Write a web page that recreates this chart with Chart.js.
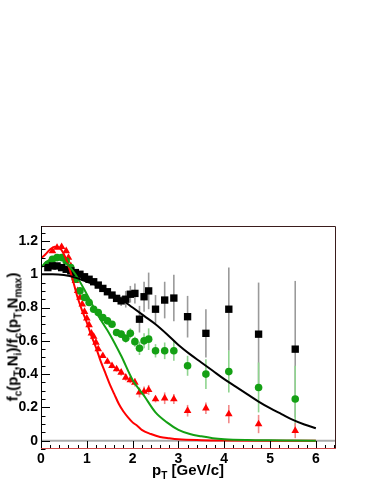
<!DOCTYPE html>
<html><head><meta charset="utf-8">
<script src="https://cdn.jsdelivr.net/npm/chart.js@4/dist/chart.umd.min.js"></script>
<style>
html,body{margin:0;padding:0;background:#fff;}
#wrap{position:relative;width:374px;height:484px;overflow:hidden;}
canvas{position:absolute;left:0;top:0;}
.t{position:absolute;font-family:"Liberation Sans",Arial,sans-serif;font-weight:bold;font-size:15px;white-space:nowrap;color:#000;line-height:1;}
.t sub{font-size:10px;vertical-align:baseline;position:relative;top:4px;}
#xt{left:188px;top:469px;transform:translate(-50%,-50%);}
#yt{left:12px;top:337px;transform:translate(-50%,-50%) rotate(-90deg);}
</style></head>
<body><div id="wrap"><canvas id="c" width="374" height="484"></canvas>
<div class="t" id="xt">p<sub>T</sub> [GeV/c]</div>
<div class="t" id="yt">f<sub>c</sub>(p<sub>T</sub>,N<sub>i</sub>)/f<sub>c</sub>(p<sub>T</sub>,N<sub>max</sub>)</div>
</div>
<script>
// ---- tick labels ----
const xTicks = [0, 1, 2, 3, 4, 5, 6];
const yTicks = [0, 0.2, 0.4, 0.6, 0.8, 1, 1.2];

// ---- black squares ----
const blackPt  = [0.15,0.25,0.35,0.45,0.55,0.65,0.75,0.85,0.95,1.05,1.15,1.25,1.35,1.45,1.55,1.65,1.75,1.85,1.95,2.05,2.15,2.25,2.35,2.5,2.7,2.9,3.2,3.6,4.1,4.75,5.55];
const blackVal = [1.04,1.05,1.05,1.04,1.03,1.02,1.01,1.00,0.985,0.97,0.955,0.935,0.915,0.895,0.875,0.855,0.84,0.85,0.88,0.885,0.73,0.865,0.90,0.79,0.845,0.857,0.745,0.645,0.79,0.64,0.55];
const blackErr = [0.01,0.01,0.01,0.01,0.01,0.01,0.01,0.01,0.01,0.01,0.01,0.01,0.01,0.015,0.015,0.02,0.03,0.05,0.05,0.06,0.08,0.09,0.11,0.085,0.11,0.14,0.125,0.145,0.25,0.31,0.41];

// ---- green circles ----
const greenPt  = [0.15,0.25,0.35,0.45,0.55,0.65,0.75,0.85,0.95,1.05,1.15,1.25,1.35,1.45,1.55,1.65,1.75,1.85,1.95,2.05,2.15,2.25,2.35,2.5,2.7,2.9,3.2,3.6,4.1,4.75,5.55];
const greenVal = [1.06,1.09,1.10,1.10,1.08,1.04,0.97,0.90,0.86,0.83,0.79,0.77,0.74,0.72,0.70,0.65,0.64,0.615,0.645,0.595,0.555,0.60,0.61,0.54,0.54,0.54,0.45,0.40,0.415,0.32,0.25];
const greenErr = [0.01,0.01,0.01,0.01,0.01,0.01,0.01,0.01,0.01,0.01,0.01,0.01,0.01,0.015,0.015,0.02,0.02,0.025,0.03,0.03,0.04,0.045,0.065,0.04,0.05,0.06,0.06,0.09,0.125,0.15,0.2];

// ---- red triangles ----
const redPt  = [0.25,0.35,0.45,0.55,0.6,0.65,0.7,0.75,0.8,0.85,0.9,0.95,1.0,1.05,1.1,1.15,1.2,1.25,1.35,1.45,1.55,1.65,1.75,1.85,1.95,2.05,2.15,2.25,2.35,2.5,2.7,2.9,3.2,3.6,4.1,4.75,5.55];
const redVal = [1.14,1.16,1.165,1.14,1.10,1.05,1.00,0.96,0.90,0.86,0.82,0.775,0.735,0.695,0.645,0.625,0.59,0.55,0.51,0.475,0.45,0.43,0.41,0.38,0.365,0.35,0.29,0.295,0.305,0.25,0.255,0.25,0.18,0.195,0.16,0.10,0.06];
const redErr = [0.01,0.01,0.01,0.01,0.01,0.01,0.01,0.01,0.01,0.01,0.01,0.01,0.01,0.01,0.01,0.01,0.01,0.01,0.01,0.015,0.015,0.015,0.02,0.02,0.02,0.025,0.03,0.03,0.03,0.02,0.035,0.03,0.035,0.035,0.055,0.055,0.045];

// ---- curves ----
const blackCurveX = [0,0.25,0.5,0.75,1.0,1.25,1.5,1.75,2.0,2.25,2.5,2.75,3.0,3.25,3.5,3.75,4.0,4.25,4.5,4.75,5.0,5.25,5.5,5.75,6.0];
const blackCurveY = [1.0,1.0,0.995,0.98,0.955,0.93,0.89,0.85,0.80,0.75,0.70,0.64,0.575,0.52,0.47,0.42,0.37,0.325,0.28,0.235,0.195,0.16,0.125,0.097,0.075];
const greenCurveX = [0,0.1,0.2,0.35,0.5,0.75,1.0,1.25,1.5,1.75,2.0,2.25,2.5,2.75,3.0,3.25,3.5,3.75,4.0,4.5,5.0,5.5,6.0];
const greenCurveY = [1.04,1.07,1.09,1.10,1.08,1.00,0.88,0.75,0.64,0.51,0.365,0.27,0.17,0.11,0.065,0.04,0.026,0.015,0.009,0.004,0.002,0.001,0.0];
const redCurveX = [0,0.1,0.2,0.3,0.4,0.5,0.6,0.7,0.8,0.9,1.0,1.1,1.2,1.3,1.4,1.5,1.6,1.7,1.8,1.9,2.0,2.1,2.2,2.4,2.6,2.8,3.0,3.5,4.0,5.0,6.0];
const redCurveY = [1.095,1.12,1.15,1.165,1.16,1.12,1.05,0.96,0.86,0.78,0.71,0.63,0.56,0.48,0.41,0.34,0.28,0.22,0.175,0.14,0.11,0.09,0.065,0.04,0.022,0.014,0.008,0.003,0.001,0.0,0.0];

const GREEN = '#14a014', RED = '#ff0000', BLACK = '#000000';
const zip = (xs, ys) => xs.map((x, i) => ({x: x, y: ys[i]}));
const FONT = {family: '"Liberation Sans", Arial, sans-serif', size: 14, weight: 'bold'};

const errorBars = {
  id: 'errorBars',
  beforeDatasetsDraw(chart) {
    const {ctx, scales: {x, y}} = chart;
    ctx.save();
    chart.data.datasets.forEach(ds => {
      if (!ds.errors) return;
      ctx.strokeStyle = ds.errColor;
      ctx.lineWidth = 1.6;
      ds.data.forEach((p, i) => {
        const e = ds.errors[i];
        const px = x.getPixelForValue(p.x);
        const y1 = y.getPixelForValue(p.y + e), y2 = y.getPixelForValue(p.y - e);
        ctx.beginPath(); ctx.moveTo(px, y1); ctx.lineTo(px, y2); ctx.stroke();
      });
    });
    // zero line
    const y0 = y.getPixelForValue(0);
    ctx.strokeStyle = '#aaaaaa'; ctx.lineWidth = 2;
    ctx.beginPath(); ctx.moveTo(chart.chartArea.left, y0); ctx.lineTo(chart.chartArea.right, y0); ctx.stroke();
    ctx.restore();
  }
};

const frameTicks = {
  id: 'frameTicks',
  afterDraw(chart) {
    const {ctx, chartArea: a, scales: {x, y}} = chart;
    ctx.save();
    ctx.strokeStyle = '#000'; ctx.lineWidth = 1;
    // y ticks inside
    for (let k = -1; k <= 25; k++) {
      const v = k * 0.05;
      if (v < y.min - 1e-9 || v > y.max + 1e-9) continue;
      const major = (k % 4 === 0);
      const py = Math.round(y.getPixelForValue(v)) + 0.5;
      ctx.beginPath(); ctx.moveTo(a.left, py); ctx.lineTo(a.left + (major ? 9 : 4.5), py); ctx.stroke();
    }
    // x ticks inside
    for (let k = 0; k <= 32; k++) {
      const v = k * 0.2;
      if (v > x.max + 1e-9) continue;
      const major = (k % 5 === 0);
      const px = Math.round(x.getPixelForValue(v)) + 0.5;
      ctx.beginPath(); ctx.moveTo(px, a.bottom); ctx.lineTo(px, a.bottom - (major ? 8 : 4)); ctx.stroke();
    }
    // frame
    ctx.strokeStyle = '#3a1c1c';
    ctx.beginPath();
    ctx.moveTo(a.left, a.top + 0.5); ctx.lineTo(a.right - 0.5, a.top + 0.5); ctx.lineTo(a.right - 0.5, a.bottom);
    ctx.stroke();
    ctx.strokeStyle = '#000';
    ctx.beginPath(); ctx.moveTo(a.left + 0.5, a.top); ctx.lineTo(a.left + 0.5, a.bottom); ctx.stroke();
    ctx.strokeStyle = '#d04848';
    ctx.beginPath(); ctx.moveTo(a.left, a.bottom - 0.5); ctx.lineTo(a.right, a.bottom - 0.5); ctx.stroke();
    ctx.restore();
  }
};

new Chart(document.getElementById('c'), {
  type: 'scatter',
  data: {
    datasets: [
      {data: zip(blackCurveX, blackCurveY), showLine: true, borderColor: BLACK, borderWidth: 2, pointRadius: 0, cubicInterpolationMode: 'monotone', order: 0},
      {data: zip(greenCurveX, greenCurveY), showLine: true, borderColor: GREEN, borderWidth: 2, pointRadius: 0, cubicInterpolationMode: 'monotone', order: 0},
      {data: zip(redCurveX, redCurveY), showLine: true, borderColor: RED, borderWidth: 2, pointRadius: 0, cubicInterpolationMode: 'monotone', order: 0},
      {data: zip(blackPt, blackVal), errors: blackErr, errColor: '#9a9a9a', pointStyle: 'rect', pointRadius: 5.2, backgroundColor: BLACK, borderWidth: 0, order: 1},
      {data: zip(greenPt, greenVal), errors: greenErr, errColor: '#8fd48f', pointStyle: 'circle', pointRadius: 3.8, backgroundColor: GREEN, borderWidth: 0, order: 2},
      {data: zip(redPt, redVal), errors: redErr, errColor: '#f28a8a', pointStyle: 'triangle', pointRadius: 4.4, backgroundColor: RED, borderWidth: 0, order: 3}
    ]
  },
  options: {
    responsive: false,
    animation: false,
    layout: {padding: {left: 0, right: 38, top: 226, bottom: 0}},
    plugins: {legend: {display: false}, tooltip: {enabled: false}},
    scales: {
      x: {
        type: 'linear', min: 0, max: 6.44,
        afterBuildTicks: s => { s.ticks = xTicks.map(v => ({value: v})); },
        afterFit: s => { s.height = 35; },
        ticks: {font: FONT, color: '#000', padding: 2, maxRotation: 0, autoSkip: false, callback: v => String(v)},
        grid: {display: false, drawTicks: false},
        border: {display: false}
      },
      y: {
        type: 'linear', min: -0.05, max: 1.29,
        afterBuildTicks: s => { s.ticks = yTicks.map(v => ({value: v})); },
        afterFit: s => { s.width = 41; },
        ticks: {font: FONT, color: '#000', padding: 3, autoSkip: false, callback: v => String(Math.round(v * 10) / 10)},
        grid: {display: false, drawTicks: false},
        border: {display: false}
      }
    }
  },
  plugins: [errorBars, frameTicks]
});
</script>
</body></html>
